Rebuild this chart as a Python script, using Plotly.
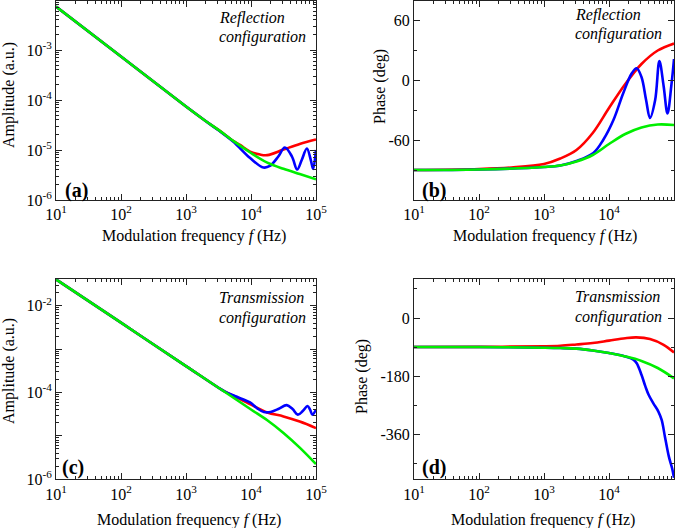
import plotly.graph_objects as go

# ---------------- data ----------------
# Panel (a): reflection amplitude
fa_red = [10, 100, 1000, 2000, 3200, 5400, 6800, 9700, 13800, 17800, 31600, 56200, 100000]
amp_a_red = [7.4e-3, 7.4e-4, 7.4e-5, 3.8e-5, 2.5e-5, 1.5e-5, 1.26e-5, 9.3e-6, 8.1e-6, 7.9e-6, 1.02e-5, 1.32e-5, 1.62e-5]
fa_blue = [10, 100, 1000, 2000, 3200, 5300, 9700, 15500, 19500, 26300, 33100, 42700, 51300, 60300, 72400, 83200, 90200, 100000]
amp_a_blue = [7.4e-3, 7.4e-4, 7.4e-5, 3.8e-5, 2.45e-5, 1.48e-5, 6.9e-6, 4.47e-6, 4.79e-6, 7.4e-6, 1.12e-5, 7.4e-6, 4.07e-6, 6.3e-6, 1.07e-5, 6.3e-6, 4.17e-6, 1.0e-5]
fa_green = [10, 100, 1000, 2000, 3200, 5600, 10000, 17800, 31600, 56200, 100000]
amp_a_green = [7.4e-3, 7.4e-4, 7.4e-5, 3.8e-5, 2.5e-5, 1.45e-5, 8.7e-6, 5.6e-6, 4.2e-6, 3.3e-6, 2.6e-6]

# Panel (b): reflection phase (deg)
fb_red = [10, 100, 316, 1000, 1780, 3160, 5620, 10000, 17800, 31600, 56200, 100000]
ph_b_red = [-90, -89, -87.5, -84, -78.5, -70, -53, -28, -4, 16, 29.5, 36.5]
fb_blue = [10, 100, 1000, 1780, 3160, 5750, 8130, 11700, 16600, 22400, 26600, 31600, 37200, 42700, 51300, 59600, 69200, 79400, 91200, 100000]
ph_b_blue = [-90, -89.5, -87, -85.5, -81, -73, -60, -40, -13, 6.7, 11.7, 3, -20, -38, -20, 19, -6, -33.5, -5, 21]
fb_green = [10, 100, 1000, 1780, 3160, 5620, 10000, 17800, 31600, 56200, 100000]
ph_b_green = [-90, -89.5, -87, -85.5, -81.5, -75, -64, -54, -47.5, -44.5, -45]

# Panel (c): transmission amplitude
fc_red = [10, 100, 1000, 3160, 3980, 5620, 10000, 17800, 31600, 56200, 100000]
amp_c_red = [4.07e-2, 4.07e-3, 4.07e-4, 1.29e-4, 1.05e-4, 8.1e-5, 5.25e-5, 3.47e-5, 2.82e-5, 2.14e-5, 1.51e-5]
fc_blue = [10, 100, 1000, 3160, 3980, 5620, 9660, 12600, 15800, 20000, 26300, 35500, 43600, 52500, 63100, 74100, 81300, 88100, 100000]
amp_c_blue = [4.07e-2, 4.07e-3, 4.07e-4, 1.29e-4, 1.05e-4, 8.3e-5, 5.9e-5, 4.27e-5, 3.55e-5, 3.55e-5, 4.17e-5, 5.13e-5, 4.17e-5, 3.09e-5, 3.8e-5, 4.9e-5, 3.98e-5, 3.09e-5, 4.07e-5]
fc_green = [10, 100, 1000, 3160, 10000, 17800, 31600, 56200, 100000]
amp_c_green = [4.07e-2, 4.07e-3, 4.07e-4, 1.29e-4, 4.07e-5, 2.29e-5, 1.17e-5, 5.37e-6, 2.24e-6]

# Panel (d): transmission phase (deg)
fd_red = [10, 100, 1000, 1780, 3160, 5620, 10000, 17800, 26300, 42700, 69200, 100000]
ph_d_red = [-90, -89.5, -87.5, -86, -82, -77.5, -70, -62.5, -60, -65, -83, -107]
fd_blue = [10, 100, 1000, 1780, 3160, 5620, 10000, 17800, 23400, 26700, 31600, 36300, 40700, 47900, 57500, 64600, 72400, 83200, 93300, 100000]
ph_d_blue = [-90, -90, -92, -93, -95, -100.5, -108.5, -119, -128, -140, -176, -212, -238, -264, -290, -316, -367, -429, -465, -495]
fd_green = [10, 100, 1000, 1780, 3160, 5620, 10000, 17800, 31600, 56200, 100000]
ph_d_green = [-90, -90, -92, -93, -95, -100.5, -108.5, -119, -133, -155, -187]

x_tickvals = [10, 100, 1000, 10000, 100000]
x_ticktext = ["10<sup>1</sup>", "10<sup>2</sup>", "10<sup>3</sup>", "10<sup>4</sup>", "10<sup>5</sup>"]
ya_tickvals = [1e-6, 1e-5, 1e-4, 1e-3]
ya_ticktext = ["10<sup>-6</sup>", "10<sup>-5</sup>", "10<sup>-4</sup>", "10<sup>-3</sup>"]
yc_tickvals = [1e-6, 1e-5, 1e-4, 1e-3, 1e-2]
yc_ticktext = ["10<sup>-6</sup>", "", "10<sup>-4</sup>", "", "10<sup>-2</sup>"]
yb_tickvals = [-120, -60, 0, 60]
yb_ticktext = ["", "-60", "0", "60"]
yd_tickvals = [-360, -180, 0]
yd_ticktext = ["-360", "-180", "0"]

# ---------------- figure ----------------
W, H = 685, 528
FONT = "Liberation Serif"
RED, BLUE, GREEN = "#ff0000", "#0000ff", "#00ee00"
LW = 2.6

def px(x):
    return x / W

def py(y):
    return 1 - y / H

fig = go.Figure()

panels = [
    ("x", "y", [(fa_red, amp_a_red, RED), (fa_blue, amp_a_blue, BLUE), (fa_green, amp_a_green, GREEN)]),
    ("x2", "y2", [(fb_red, ph_b_red, RED), (fb_blue, ph_b_blue, BLUE), (fb_green, ph_b_green, GREEN)]),
    ("x3", "y3", [(fc_red, amp_c_red, RED), (fc_blue, amp_c_blue, BLUE), (fc_green, amp_c_green, GREEN)]),
    ("x4", "y4", [(fd_red, ph_d_red, RED), (fd_blue, ph_d_blue, BLUE), (fd_green, ph_d_green, GREEN)]),
]
for xa, ya, series in panels:
    for xs, ys, col in series:
        fig.add_trace(go.Scatter(x=xs, y=ys, xaxis=xa, yaxis=ya, mode="lines",
                                 line=dict(color=col, width=LW, shape="spline", smoothing=1.0),
                                 showlegend=False, hoverinfo="skip"))

minor_log = []
for dec in [1, 10, 100, 1000, 10000]:
    for k in range(2, 10):
        minor_log.append(k * dec * 10)
minor_log_y = []
for dec in [1e-7, 1e-6, 1e-5, 1e-4, 1e-3, 1e-2]:
    for k in range(2, 10):
        minor_log_y.append(k * dec * 10)

axis_common = dict(showline=True, linecolor="#222", linewidth=1, mirror="ticks",
                   ticks="inside", ticklen=6, tickwidth=1, tickcolor="#222",
                   showgrid=False, zeroline=False, automargin=False,
                   tickfont=dict(family=FONT, size=16, color="black"))

xdom_l = [px(56), px(316)]
xdom_r = [px(414), px(674)]
ydom_t = [py(200), py(1)]
ydom_b = [py(479.3), py(279.3)]

xaxis_base = dict(type="log", range=[1, 5], tickmode="array", tickvals=x_tickvals, ticktext=x_ticktext,
                  minor=dict(tickmode="array", tickvals=minor_log, ticks="inside", ticklen=3, tickcolor="#222", showgrid=False),
                  **axis_common)

fig.update_layout(
    width=W, height=H,
    margin=dict(l=0, r=0, t=0, b=0),
    paper_bgcolor="white", plot_bgcolor="white",
    xaxis=dict(domain=xdom_l, anchor="y", **xaxis_base),
    xaxis2=dict(domain=xdom_r, anchor="y2", **xaxis_base),
    xaxis3=dict(domain=xdom_l, anchor="y3", **xaxis_base),
    xaxis4=dict(domain=xdom_r, anchor="y4", **xaxis_base),
    yaxis=dict(domain=ydom_t, anchor="x", type="log", range=[-6, -2.02], tickmode="array",
               tickvals=ya_tickvals, ticktext=ya_ticktext,
               minor=dict(tickmode="array", tickvals=minor_log_y, ticks="inside", ticklen=3, tickcolor="#222", showgrid=False),
               **axis_common),
    yaxis2=dict(domain=ydom_t, anchor="x2", range=[-120, 79], tickmode="array",
                tickvals=yb_tickvals, ticktext=yb_ticktext,
                minor=dict(tickmode="array", tickvals=[-90, -30, 30], ticks="inside", ticklen=3, tickcolor="#222", showgrid=False),
                **axis_common),
    yaxis3=dict(domain=ydom_b, anchor="x3", type="log", range=[-6, -1.39], tickmode="array",
                tickvals=yc_tickvals, ticktext=yc_ticktext,
                minor=dict(tickmode="array", tickvals=minor_log_y, ticks="inside", ticklen=3, tickcolor="#222", showgrid=False),
                **axis_common),
    yaxis4=dict(domain=ydom_b, anchor="x4", range=[-500, 120], tickmode="array",
                tickvals=yd_tickvals, ticktext=yd_ticktext,
                minor=dict(tickmode="array", tickvals=[90, -90, -270, -450], ticks="inside", ticklen=3, tickcolor="#222", showgrid=False),
                **axis_common),
)

def ann(x, y, text, size=16, xanchor="center", yanchor="middle", angle=0, bold=False, italic=False):
    t = text
    if italic:
        t = "<i>" + t + "</i>"
    if bold:
        t = "<b>" + t + "</b>"
    fig.add_annotation(x=px(x), y=py(y), xref="paper", yref="paper", text=t, showarrow=False,
                       xanchor=xanchor, yanchor=yanchor, textangle=angle,
                       font=dict(family=FONT, size=size, color="black"))

xtitle = "Modulation frequency <i>f</i> (Hz)"
ann(194, 236, xtitle)
ann(545, 236, xtitle)
ann(189, 520, xtitle)
ann(543, 520, xtitle)

ann(9, 95, "Amplitude (a.u.)", angle=-90)
ann(380, 87, "Phase (deg)", angle=-90)
ann(9, 371, "Amplitude (a.u.)", angle=-90)
ann(362, 377, "Phase (deg)", angle=-90)

ann(217, 18, "Reflection", xanchor="left", italic=True)
ann(217, 37, "configuration", xanchor="left", italic=True)
ann(573, 15, "Reflection", xanchor="left", italic=True)
ann(573, 34, "configuration", xanchor="left", italic=True)
ann(217, 297, "Transmission", xanchor="left", italic=True)
ann(217, 318, "configuration", xanchor="left", italic=True)
ann(573, 296, "Transmission", xanchor="left", italic=True)
ann(573, 317, "configuration", xanchor="left", italic=True)

ann(63, 190, "(a)", size=20, xanchor="left", bold=True)
ann(420, 190, "(b)", size=20, xanchor="left", bold=True)
ann(60, 467, "(c)", size=20, xanchor="left", bold=True)
ann(420, 467, "(d)", size=20, xanchor="left", bold=True)

fig.write_html("out.html", config={"displayModeBar": False},
               post_script="document.body.style.margin='0px';document.body.style.padding='0px';document.body.style.overflow='hidden';")
